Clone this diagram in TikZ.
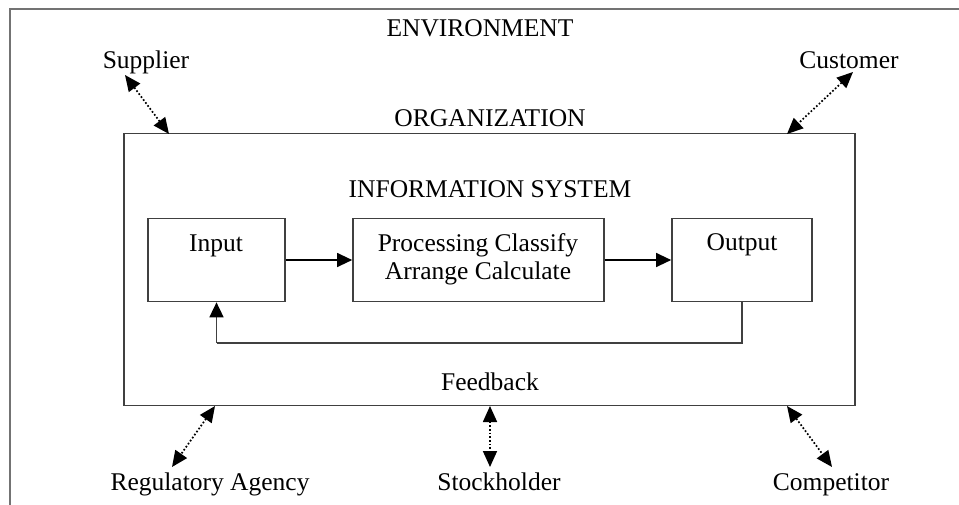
\documentclass[tikz,border=0pt]{standalone}
\usepackage{fontspec}
\setmainfont{Liberation Serif}
\usetikzlibrary{arrows.meta}
\begin{document}
\begin{tikzpicture}[x=1pt,y=-1pt,
  lbl/.style={font=\fontsize{25.5}{29}\selectfont, inner sep=0pt, text=black, anchor=base},
  boxline/.style={draw=black!75, line width=1.7pt},
  blockbox/.style={boxline, rectangle, inner sep=0pt},
  flow/.style={draw=black, line width=1.3pt, -{Triangle[length=15pt,width=14pt,color=black]}},
  link/.style={draw=black, line width=1.7pt, dotted, {Triangle[length=16pt,width=14pt]}-{Triangle[length=16pt,width=14pt]}},
  frame/.style={draw=black!55, line width=2.5pt}
]
\useasboundingbox (0,0) rectangle (959,504);
\clip (0,0) rectangle (959,504);
\fill[white] (0,0) rectangle (959,504);
% outer environment frame (only top and left visible)
\draw[frame] (10,520) -- (10,9) -- (975,9);

% texts (placed by baseline)
\node[lbl] (env) at (480,36) {ENVIRONMENT};
\node[lbl] (sup) at (146,68) {Supplier};
\node[lbl] (cus) at (849,68) {Customer};
\node[lbl] (orgt) at (490,126) {ORGANIZATION};
\node[lbl] (ist) at (490,197) {INFORMATION SYSTEM};
\node[lbl] (fbt) at (490,390) {Feedback};
\node[lbl] (reg) at (210,490) {Regulatory Agency};
\node[lbl] (stk) at (499,490) {Stockholder};
\node[lbl] (cmp) at (831,490) {Competitor};

% organization box
\node[blockbox, minimum width=731pt, minimum height=272pt] (org) at (489.5,269.5) {};

% information system blocks
\node[blockbox, minimum width=137pt, minimum height=83pt] (in) at (216.5,260) {};
\node[blockbox, minimum width=251pt, minimum height=83pt] (proc) at (478.5,260) {};
\node[blockbox, minimum width=140pt, minimum height=83pt] (out) at (742,260) {};
\node[lbl] (int) at (216,251) {Input};
\node[lbl] (proct1) at (478,251) {Processing Classify};
\node[lbl] (proct2) at (478,279) {Arrange Calculate};
\node[lbl] (outt) at (742,250) {Output};

\draw[flow] (in.east) -- (proc.west);
\draw[flow] (proc.east) -- (out.west);
\coordinate (fbR) at (742,343);
\coordinate (fbL) at (216.5,343);
\draw[boxline] (out.south) -- (fbR) -- (fbL);
\draw[flow, draw=black!75, line width=1.7pt] (fbL) -- (in.south);

% environment links
\coordinate (s1) at (125,75);  \coordinate (s2) at (169,134);
\coordinate (c1) at (853,72);  \coordinate (c2) at (787,134);
\coordinate (r1) at (215,406); \coordinate (r2) at (172,467);
\coordinate (k1) at (490,406); \coordinate (k2) at (490,467);
\coordinate (m1) at (787,406); \coordinate (m2) at (832,467);
\draw[link] (s1) -- (s2);
\draw[link] (c1) -- (c2);
\draw[link] (r1) -- (r2);
\draw[link] (k1) -- (k2);
\draw[link] (m1) -- (m2);
\end{tikzpicture}
\end{document}
